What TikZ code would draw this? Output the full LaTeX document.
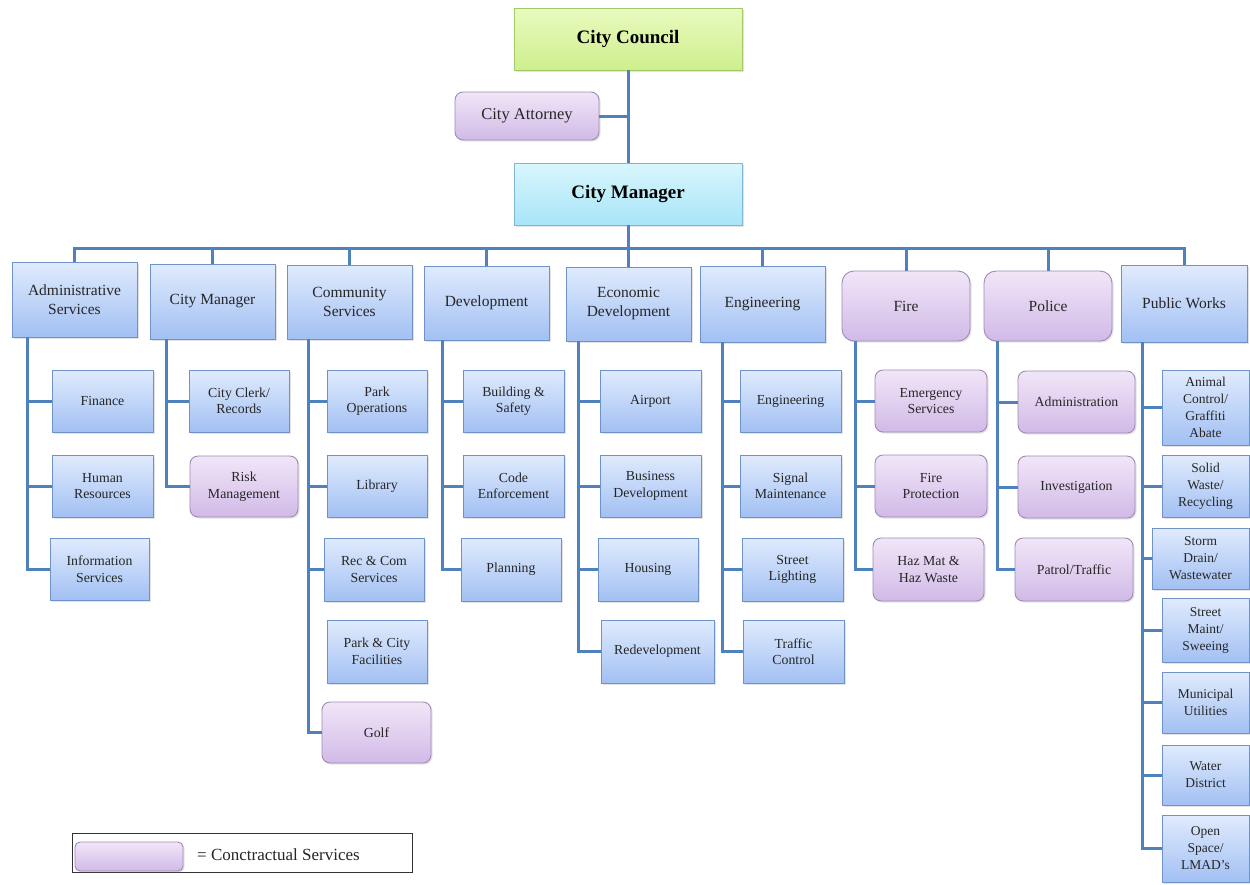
\documentclass[tikz,border=0pt]{standalone}
\usepackage{fontspec}
\setmainfont{Liberation Serif}
\usetikzlibrary{shadows}
\definecolor{linec}{HTML}{4F81BD}
\definecolor{bluetop}{HTML}{E0EBFD}
\definecolor{bluebot}{HTML}{A2C0F3}
\definecolor{bluebd}{HTML}{6F92C8}
\definecolor{purtop}{HTML}{F1E6F8}
\definecolor{purbot}{HTML}{D1BAE7}
\definecolor{purbd}{HTML}{9E8AB6}
\definecolor{grtop}{HTML}{E8FABF}
\definecolor{grbot}{HTML}{CFEF8C}
\definecolor{grbd}{HTML}{A3C86A}
\definecolor{cytop}{HTML}{D9F6FD}
\definecolor{cybot}{HTML}{A8E5F8}
\definecolor{cybd}{HTML}{7FB6D6}
\newcommand\bx[7]{\node[#6, minimum width={(#4-#2)*1pt}, minimum height={(#5-#3)*1pt}] (#1) at ({(#2+#4)/2},{(#3+#5)/2}) {#7};}
\tikzset{
  box/.style={draw=bluebd, line width=0.9pt, top color=bluetop, bottom color=bluebot,
    inner sep=0pt, outer sep=0pt, align=center, text=black!85,
    font=\fontsize{13.8}{16.5}\selectfont,
    drop shadow={shadow xshift=1.5pt, shadow yshift=-1.5pt, opacity=0.22}},
  cbox/.style={box, draw=purbd, top color=purtop, bottom color=purbot, rounded corners=8pt},
  dept/.style={box, font=\fontsize{15.5}{19}\selectfont},
  cdept/.style={cbox, rounded corners=12pt, font=\fontsize{15.5}{19}\selectfont},
  pwbox/.style={box, font=\fontsize{13.5}{17}\selectfont},
  topbox/.style={box, font=\fontsize{19}{22}\selectfont\bfseries, text=black},
  conn/.style={draw=linec, line width=3pt},
  legendframe/.style={draw=black!80, line width=0.8pt, inner sep=0pt, outer sep=0pt},
  legendtext/.style={font=\fontsize{17}{20}\selectfont, text=black!85, inner sep=0pt, anchor=west}
}
\begin{document}
\begin{tikzpicture}[x=1pt,y=-1pt]
\useasboundingbox[fill=white] (0,0) rectangle (1250,884);
\coordinate (bus) at (628,248);
% top level
\bx{council}{514}{8}{742}{70}{topbox, draw=grbd, top color=grtop, bottom color=grbot}{City Council}
\bx{att}{455}{92}{599}{140}{cbox, font=\fontsize{16.5}{19}\selectfont}{City Attorney}
\bx{cm}{514}{163}{742}{225}{topbox, draw=cybd, top color=cytop, bottom color=cybot}{City Manager}
% departments
\bx{admin}{12}{262}{137}{337}{dept}{Administrative\\Services}
\bx{cmg}{150}{264}{275}{339}{dept}{City Manager}
\bx{comm}{287}{265}{412}{339}{dept}{Community\\Services}
\bx{dev}{424}{266}{549}{340}{dept}{Development}
\bx{econ}{566}{267}{691}{341}{dept}{Economic\\Development}
\bx{eng}{700}{266}{825}{342}{dept}{Engineering}
\bx{fire}{842}{271}{970}{341}{cdept}{Fire}
\bx{police}{984}{271}{1112}{341}{cdept}{Police}
\bx{pw}{1121}{265}{1247}{342}{dept}{Public Works}
% children
\bx{fin}{52}{370}{153}{432}{box}{Finance}
\bx{hr}{52}{455}{153}{517}{box}{Human\\Resources}
\bx{info}{50}{538}{149}{600}{box}{Information\\Services}
\bx{clerk}{189}{370}{289}{432}{box}{City Clerk/\\Records}
\bx{risk}{190}{456}{298}{517}{cbox}{Risk\\Management}
\bx{park}{327}{370}{427}{432}{box}{Park\\Operations}
\bx{lib}{327}{455}{427}{517}{box}{Library}
\bx{rec}{324}{538}{424}{601}{box}{Rec \& Com\\Services}
\bx{pcf}{327}{620}{427}{683}{box}{Park \& City\\Facilities}
\bx{golf}{322}{702}{431}{763}{cbox}{Golf}
\bx{bsafe}{463}{370}{564}{432}{box}{Building \&\\Safety}
\bx{code}{463}{455}{564}{517}{box}{Code\\Enforcement}
\bx{plan}{461}{538}{561}{601}{box}{Planning}
\bx{air}{600}{370}{701}{432}{box}{Airport}
\bx{busdev}{600}{455}{701}{517}{box}{Business\\Development}
\bx{hous}{598}{538}{698}{601}{box}{Housing}
\bx{redev}{601}{620}{714}{683}{box}{Redevelopment}
\bx{engc}{740}{370}{841}{432}{box}{Engineering}
\bx{sig}{740}{455}{841}{517}{box}{Signal\\Maintenance}
\bx{light}{742}{538}{843}{601}{box}{Street\\Lighting}
\bx{traf}{743}{620}{844}{683}{box}{Traffic\\Control}
\bx{emer}{875}{370}{987}{432}{cbox}{Emergency\\Services}
\bx{fprot}{875}{455}{987}{517}{cbox}{Fire\\Protection}
\bx{haz}{873}{538}{984}{601}{cbox}{Haz Mat \&\\Haz Waste}
\bx{padm}{1018}{371}{1135}{433}{cbox}{Administration}
\bx{inv}{1018}{456}{1135}{518}{cbox}{Investigation}
\bx{patrol}{1015}{538}{1133}{601}{cbox}{Patrol/Traffic}
\bx{animal}{1162}{370}{1249}{445}{pwbox}{Animal\\Control/\\Graffiti\\Abate}
\bx{solid}{1162}{455}{1249}{517}{pwbox}{Solid\\Waste/\\Recycling}
\bx{storm}{1152}{528}{1249}{589}{pwbox}{Storm\\Drain/\\Wastewater}
\bx{street}{1162}{598}{1249}{662}{pwbox}{Street\\Maint/\\Sweeing}
\bx{muni}{1162}{672}{1249}{733}{pwbox}{Municipal\\Utilities}
\bx{water}{1162}{745}{1249}{805}{pwbox}{Water\\District}
\bx{open}{1162}{815}{1249}{882}{pwbox}{Open\\Space/\\LMAD's}
% legend
\node[legendframe, minimum width=340pt, minimum height=39pt] (legend) at (242,852.5) {};
\bx{swatch}{75}{842}{183}{871}{cbox, rounded corners=5pt}{}
\node[legendtext] (legtext) at (197,855) {= Conctractual Services};
% connectors
\draw[conn] (council.south) -- (cm.north);
\draw[conn] (att.east) -- (council.south |- att.east);
\draw[conn] (cm.south) -- (bus);
\foreach \d in {admin,cmg,comm,dev,econ,eng,fire,police,pw}
  \draw[conn] (bus) -| (\d.north);
\foreach \c in {fin,hr,info} \draw[conn] ([xshift=15pt]admin.south west) |- (\c.west);
\foreach \c in {clerk,risk} \draw[conn] ([xshift=16pt]cmg.south west) |- (\c.west);
\foreach \c in {park,lib,rec,golf} \draw[conn] ([xshift=21pt]comm.south west) |- (\c.west);
\foreach \c in {bsafe,code,plan} \draw[conn] ([xshift=18pt]dev.south west) |- (\c.west);
\foreach \c in {air,busdev,hous,redev} \draw[conn] ([xshift=12pt]econ.south west) |- (\c.west);
\foreach \c in {engc,sig,light,traf} \draw[conn] ([xshift=22pt]eng.south west) |- (\c.west);
\foreach \c in {emer,fprot,haz} \draw[conn] ([xshift=13pt]fire.south west) |- (\c.west);
\foreach \c in {padm,inv,patrol} \draw[conn] ([xshift=13pt]police.south west) |- (\c.west);
\foreach \c in {animal,solid,storm,street,muni,water,open} \draw[conn] ([xshift=21pt]pw.south west) |- (\c.west);
\end{tikzpicture}
\end{document}
